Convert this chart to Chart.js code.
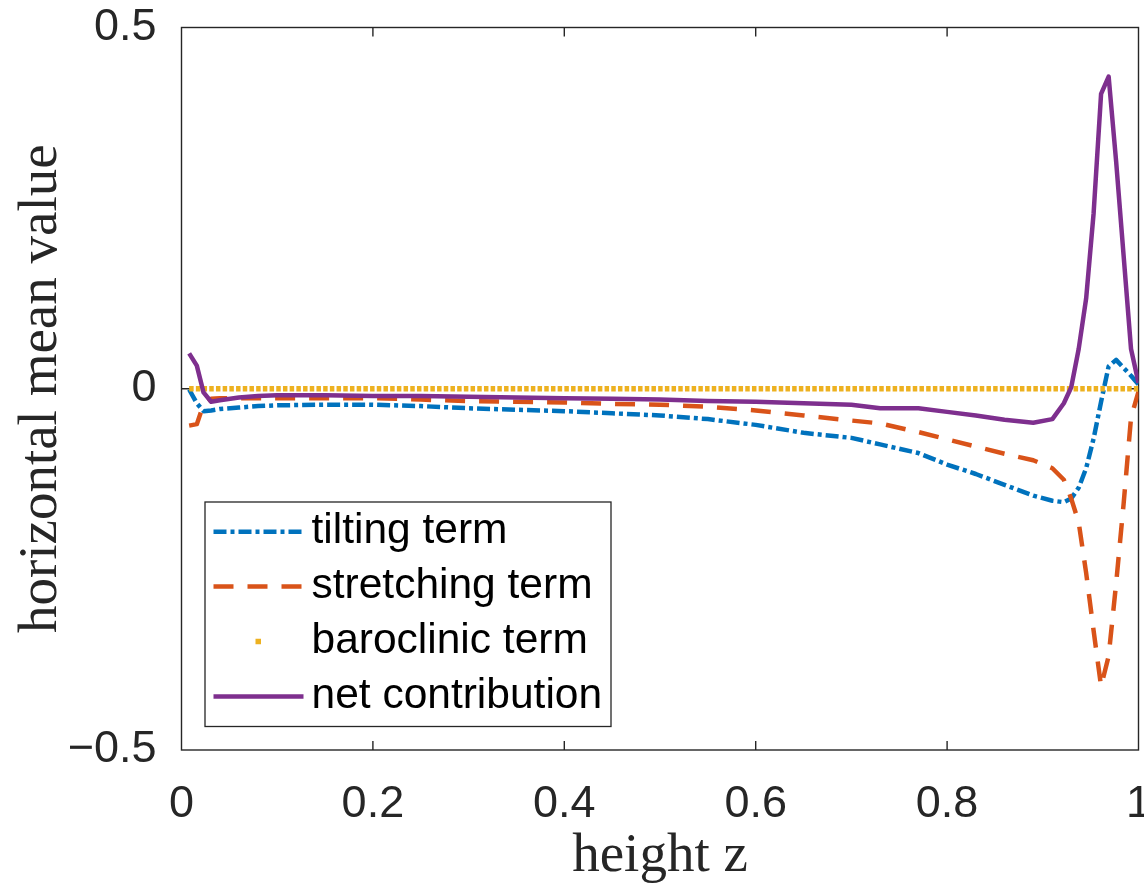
<!DOCTYPE html>
<html>
<head>
<meta charset="utf-8">
<script src="https://cdn.jsdelivr.net/npm/chart.js@4.4.1/dist/chart.umd.min.js"></script>
<style>
  html, body { margin: 0; padding: 0; background: #fff; }
  #wrap { width: 1144px; height: 884px; }
</style>
</head>
<body>
<div id="wrap"><canvas id="terms" width="1144" height="884"></canvas></div>
<script>
// height grid (denser near the top lid, 1/128 spacing there)
const Z = [0.008, 0.016, 0.023, 0.031, 0.04, 0.06, 0.08, 0.1, 0.15, 0.2,
           0.25, 0.3, 0.35, 0.4, 0.45, 0.5, 0.55, 0.6, 0.65, 0.7,
           0.73, 0.77, 0.8, 0.83, 0.86, 0.89, 0.91, 0.922, 0.9297, 0.9375,
           0.9453, 0.9531, 0.9609, 0.9688, 0.9766, 0.9844, 0.9922, 1.0];

const TILTING = [-0.001, -0.020, -0.031, -0.030, -0.028, -0.026, -0.024, -0.023, -0.022, -0.022,
                 -0.024, -0.027, -0.029, -0.031, -0.034, -0.037, -0.042, -0.050, -0.061, -0.068,
                 -0.077, -0.089, -0.105, -0.118, -0.133, -0.148, -0.155, -0.157, -0.152, -0.137,
                 -0.110, -0.069, -0.018, 0.031, 0.040, 0.029, 0.018, 0.006];

const STRETCHING = [-0.051, -0.049, -0.022, -0.014, -0.013, -0.013, -0.013, -0.013, -0.013, -0.013,
                    -0.015, -0.017, -0.018, -0.019, -0.021, -0.022, -0.025, -0.030, -0.037, -0.044,
                    -0.048, -0.060, -0.070, -0.080, -0.090, -0.099, -0.110, -0.126, -0.152, -0.185,
                    -0.255, -0.335, -0.412, -0.370, -0.270, -0.160, -0.040, -0.004];

const BAROCLINIC = [0, 0, 0, 0, 0, 0, 0, 0, 0, 0,
                    0, 0, 0, 0, 0, 0, 0, 0, 0, 0,
                    0, 0, 0, 0, 0, 0, 0, 0, 0, 0,
                    0, 0, 0, 0, 0, 0, 0, 0];

const NET = [0.049, 0.032, -0.005, -0.018, -0.016, -0.012, -0.010, -0.009, -0.009, -0.010,
             -0.010, -0.011, -0.012, -0.013, -0.014, -0.015, -0.017, -0.018, -0.020, -0.022,
             -0.027, -0.027, -0.032, -0.037, -0.043, -0.047, -0.042, -0.020, 0.002, 0.055,
             0.125, 0.243, 0.408, 0.432, 0.315, 0.185, 0.055, 0.008];

const LABELS = ['tilting term', 'stretching term', 'baroclinic term', 'net contribution'];
const X_TICKS = [0, 0.2, 0.4, 0.6, 0.8, 1];
const Y_TICKS = [-0.5, 0, 0.5];

const INK = '#262626';
const SANS = '"Liberation Sans", Arial, Helvetica, sans-serif';
const SERIF = '"Liberation Serif", "Times New Roman", serif';

// the baroclinic entry shows only one dot in the legend
const LEGEND_DASH = [[13, 4, 4, 4], [20, 14], [0, 42, 5.5, 100], []];

const pts = vals => vals.map((v, i) => ({ x: Z[i], y: v }));
const tickText = v => String(v).replace('-', '\u2212');

// box around the axes with inward ticks on all four sides
const boxAxes = {
  id: 'boxAxes',
  beforeDatasetsDraw(chart) {
    const { ctx, chartArea: a, scales: { x, y } } = chart;
    ctx.save();
    ctx.strokeStyle = INK;
    ctx.lineWidth = 1.4;
    ctx.strokeRect(a.left, a.top, a.right - a.left, a.bottom - a.top);
    ctx.beginPath();
    X_TICKS.forEach(v => {
      const px = x.getPixelForValue(v);
      if (px <= a.left + 1 || px >= a.right - 1) return;
      ctx.moveTo(px, a.bottom); ctx.lineTo(px, a.bottom - 9);
      ctx.moveTo(px, a.top);    ctx.lineTo(px, a.top + 9);
    });
    Y_TICKS.forEach(v => {
      const py = y.getPixelForValue(v);
      if (py <= a.top + 1 || py >= a.bottom - 1) return;
      ctx.moveTo(a.left, py);  ctx.lineTo(a.left + 9, py);
      ctx.moveTo(a.right, py); ctx.lineTo(a.right - 9, py);
    });
    ctx.stroke();
    ctx.restore();
  }
};

// legend box in the lower-left corner of the axes
const boxLegend = {
  id: 'boxLegend',
  afterDatasetsDraw(chart) {
    const { ctx, chartArea: a } = chart;
    const w = 406, h = 224.5;
    const x0 = a.left + 23.5, y0 = a.bottom - 23.5 - h;
    ctx.save();
    ctx.fillStyle = '#fff';
    ctx.fillRect(x0, y0, w, h);
    ctx.strokeStyle = INK;
    ctx.lineWidth = 1.3;
    ctx.strokeRect(x0, y0, w, h);
    chart.data.datasets.forEach((ds, i) => {
      const ly = y0 + 29.7 + i * 54.9;
      ctx.strokeStyle = ds.borderColor;
      ctx.lineWidth = ds.borderWidth;
      ctx.lineCap = 'butt';
      ctx.setLineDash(LEGEND_DASH[i]);
      ctx.beginPath();
      ctx.moveTo(x0 + 8.5, ly);
      ctx.lineTo(x0 + 98.5, ly);
      ctx.stroke();
      ctx.setLineDash([]);
      ctx.fillStyle = '#000';
      ctx.font = '42.5px ' + SANS;
      ctx.textBaseline = 'alphabetic';
      ctx.textAlign = 'left';
      ctx.fillText(ds.label, x0 + 106.5, ly + 11.5);
    });
    ctx.restore();
  }
};

const line = (label, vals, color, width, dash, order) => ({
  label, data: pts(vals), borderColor: color, backgroundColor: color,
  borderWidth: width, borderDash: dash, borderCapStyle: 'butt', borderJoinStyle: 'round',
  pointRadius: 0, tension: 0, fill: false, order,
});

new Chart(document.getElementById('terms'), {
  type: 'line',
  data: {
    datasets: [
      line(LABELS[0], TILTING, '#0072BD', 4.5, [13, 4, 4, 4], 3),
      line(LABELS[1], STRETCHING, '#D95319', 4.5, [20, 14], 2),
      line(LABELS[2], BAROCLINIC, '#EDB120', 5.5, [4.5, 2.2], 1),
      line(LABELS[3], NET, '#7E2F8E', 4.5, [], 0),
    ],
  },
  options: {
    responsive: false,
    devicePixelRatio: 1,
    animation: false,
    layout: { padding: { top: 27.5, right: 5.5, left: 0, bottom: 0 } },
    plugins: { legend: { display: false }, tooltip: { enabled: false } },
    scales: {
      x: {
        type: 'linear', min: 0, max: 1,
        afterBuildTicks: s => { s.ticks = X_TICKS.map(v => ({ value: v })); },
        afterFit: s => { s.height = 134; s.paddingLeft = 0; s.paddingRight = 0; },
        grid: { display: false }, border: { display: false },
        ticks: { color: INK, font: { family: SANS, size: 45 }, padding: 20, maxRotation: 0,
                 autoSkip: false, callback: tickText },
        title: { display: true, text: 'height z', color: INK,
                 font: { family: SERIF, size: 55, lineHeight: 1 }, padding: { top: 0, bottom: 0 } },
      },
      y: {
        type: 'linear', min: -0.5, max: 0.5,
        afterBuildTicks: s => { s.ticks = Y_TICKS.map(v => ({ value: v })); },
        afterFit: s => { s.width = 181.5; s.paddingTop = 0; s.paddingBottom = 0; },
        grid: { display: false }, border: { display: false },
        ticks: { color: INK, font: { family: SANS, size: 45 }, padding: 17, callback: tickText },
        title: { display: true, text: 'horizontal mean value', color: INK,
                 font: { family: SERIF, size: 55, lineHeight: 1 }, padding: { top: 14.5, bottom: 0 } },
      },
    },
  },
  plugins: [boxAxes, boxLegend],
});
</script>
</body>
</html>
